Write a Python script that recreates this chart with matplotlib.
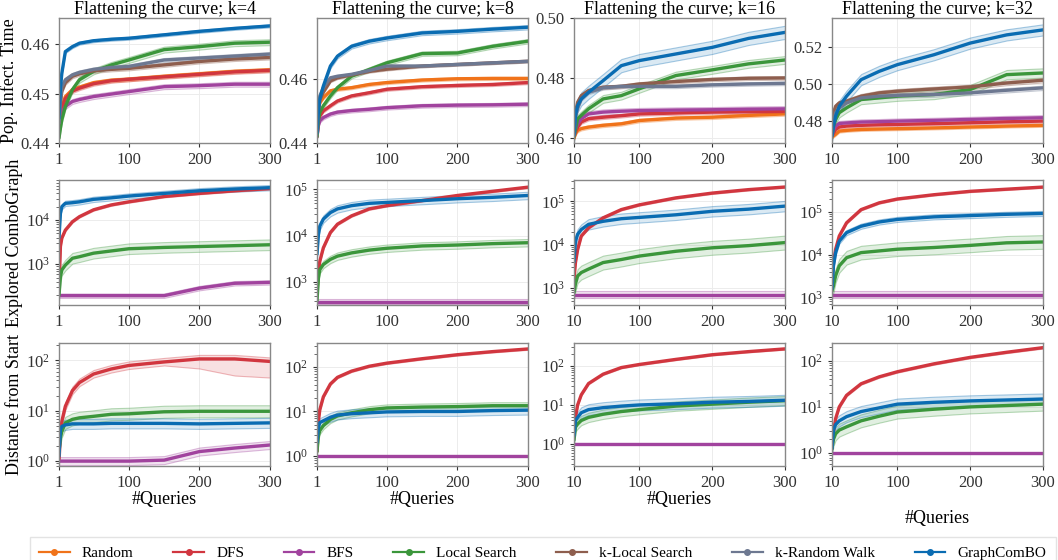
import matplotlib

matplotlib.use("Agg")
import matplotlib.pyplot as plt  # noqa: E402
import numpy as np  # noqa: E402
from matplotlib.colors import to_rgba  # noqa: E402
from matplotlib.lines import Line2D  # noqa: E402

plt.rcParams["font.family"] = ["Liberation Serif", "DejaVu Serif"]
plt.rcParams["mathtext.fontset"] = "stix"

# ---------------------------------------------------------------------------
# data (knot points of each mean curve + band width)
# ---------------------------------------------------------------------------
METHODS = ["Random", "DFS", "BFS", "Local Search", "k-Local Search",
           "k-Random Walk", "GraphComBO"]
COLORS = {
    "Random": "#f0731a",
    "DFS": "#d1363f",
    "BFS": "#a1439e",
    "Local Search": "#3b963b",
    "k-Local Search": "#8e5e4e",
    "k-Random Walk": "#6d7891",
    "GraphComBO": "#0a6cb2",
}
K_VALUES = [4, 8, 16, 32]

# query knots: k=4/8 start at 1, k=16/32 start at 10
X_A = [1, 3, 5, 10, 20, 30, 50, 75, 100, 150, 200, 250, 300]
X_B = [10, 12, 15, 20, 30, 50, 75, 100, 150, 200, 250, 300]

# row 1: population infection time (mean, +/- spread)
pit_k4 = {
    "Random": ([0.443, 0.4455, 0.4474, 0.4494, 0.4508, 0.4513, 0.4522, 0.4527, 0.4529, 0.4535, 0.454, 0.4545, 0.4548], 0.0004),
    "DFS": ([0.442, 0.445, 0.447, 0.449, 0.4505, 0.4511, 0.452, 0.4526, 0.4529, 0.4534, 0.4539, 0.4544, 0.4547], 0.0004),
    "BFS": ([0.442, 0.4445, 0.4461, 0.4474, 0.4484, 0.4488, 0.4494, 0.4499, 0.4504, 0.4514, 0.4516, 0.4519, 0.4519], 0.0005),
    "Local Search": ([0.441, 0.443, 0.4447, 0.4474, 0.4508, 0.4528, 0.4545, 0.4558, 0.4568, 0.4589, 0.4595, 0.4602, 0.4604], 0.0006),
    "k-Local Search": ([0.444, 0.448, 0.4505, 0.4522, 0.4535, 0.454, 0.4546, 0.4549, 0.4551, 0.4558, 0.4565, 0.457, 0.4573], 0.0004),
    "k-Random Walk": ([0.444, 0.4485, 0.4514, 0.4528, 0.4538, 0.4543, 0.4549, 0.4553, 0.4555, 0.4568, 0.4572, 0.4576, 0.458], 0.0004),
    "GraphComBO": ([0.445, 0.451, 0.4541, 0.4585, 0.4595, 0.4602, 0.4607, 0.461, 0.4612, 0.4619, 0.4626, 0.4632, 0.4637], 0.0003),
}
pit_k8 = {
    "Random": ([0.444, 0.45, 0.4527, 0.4543, 0.4564, 0.4569, 0.4574, 0.4584, 0.459, 0.4598, 0.4602, 0.4603, 0.4603], 0.0005),
    "DFS": ([0.442, 0.446, 0.4485, 0.4501, 0.4517, 0.4532, 0.4548, 0.4558, 0.4569, 0.4577, 0.4581, 0.4584, 0.459], 0.0005),
    "BFS": ([0.442, 0.4455, 0.447, 0.448, 0.4491, 0.4497, 0.4502, 0.4506, 0.4511, 0.4517, 0.4519, 0.452, 0.4522], 0.0006),
    "Local Search": ([0.442, 0.447, 0.4496, 0.4517, 0.4548, 0.4574, 0.461, 0.4631, 0.4652, 0.4681, 0.4683, 0.4704, 0.472], 0.0007),
    "k-Local Search": ([0.444, 0.45, 0.4535, 0.456, 0.4595, 0.4605, 0.4614, 0.4625, 0.4632, 0.4642, 0.4647, 0.4652, 0.4657], 0.0004),
    "k-Random Walk": ([0.444, 0.451, 0.4548, 0.4574, 0.4605, 0.461, 0.4616, 0.4628, 0.4642, 0.4642, 0.4647, 0.4652, 0.4657], 0.0004),
    "GraphComBO": ([0.443, 0.45, 0.4538, 0.4579, 0.4642, 0.4673, 0.4704, 0.472, 0.473, 0.4746, 0.4751, 0.4758, 0.4764], 0.0007),
}
pit_k16 = {
    "Random": ([0.460, 0.4615, 0.4626, 0.4632, 0.4637, 0.4643, 0.4648, 0.4659, 0.4667, 0.467, 0.4676, 0.4681], 0.0006),
    "DFS": ([0.4605, 0.462, 0.4637, 0.4654, 0.4665, 0.467, 0.4675, 0.4681, 0.4684, 0.4687, 0.4688, 0.4689], 0.0006),
    "BFS": ([0.461, 0.463, 0.4648, 0.4665, 0.4681, 0.4687, 0.469, 0.4692, 0.4694, 0.4695, 0.4697, 0.4698], 0.0009),
    "Local Search": ([0.4605, 0.463, 0.4665, 0.4676, 0.4698, 0.4731, 0.4742, 0.4765, 0.4809, 0.4828, 0.4848, 0.4861], 0.0013),
    "k-Local Search": ([0.461, 0.4687, 0.472, 0.4742, 0.4759, 0.477, 0.4773, 0.4781, 0.4789, 0.4796, 0.48, 0.4801], 0.0006),
    "k-Random Walk": ([0.461, 0.467, 0.470, 0.4731, 0.4753, 0.4768, 0.4773, 0.4773, 0.4773, 0.4778, 0.4781, 0.4783], 0.0006),
    "GraphComBO": ([0.461, 0.4676, 0.4709, 0.4731, 0.4753, 0.4792, 0.4842, 0.4859, 0.4881, 0.4903, 0.4933, 0.4953], 0.0022),
}
pit_k32 = {
    "Random": ([0.4715, 0.472, 0.4729, 0.4746, 0.475, 0.4755, 0.4757, 0.4759, 0.4763, 0.4768, 0.4773, 0.4777], 0.0008),
    "DFS": ([0.472, 0.4735, 0.4755, 0.4768, 0.4773, 0.4777, 0.478, 0.4782, 0.4786, 0.4791, 0.4796, 0.48], 0.0009),
    "BFS": ([0.472, 0.475, 0.4773, 0.4787, 0.479, 0.4795, 0.4797, 0.48, 0.4804, 0.4809, 0.4814, 0.4818], 0.0014),
    "Local Search": ([0.472, 0.477, 0.4809, 0.4845, 0.4871, 0.4916, 0.4925, 0.4934, 0.4943, 0.497, 0.505, 0.5059], 0.0025),
    "k-Local Search": ([0.472, 0.4845, 0.488, 0.4898, 0.4907, 0.4934, 0.4952, 0.4961, 0.4973, 0.4984, 0.5005, 0.502], 0.0012),
    "k-Random Walk": ([0.472, 0.479, 0.4845, 0.4871, 0.4898, 0.4925, 0.4934, 0.4938, 0.4943, 0.4952, 0.4966, 0.4979], 0.0012),
    "GraphComBO": ([0.472, 0.4773, 0.4827, 0.488, 0.4934, 0.5023, 0.5068, 0.5104, 0.5157, 0.522, 0.5264, 0.5291], 0.0030),
}

# row 2: explored combo-graph size, log10 of the mean (+/- spread in log10)
exp_k4 = {
    "DFS": ([2.4, 3.4, 3.59, 3.77, 3.96, 4.075, 4.23, 4.34, 4.41, 4.53, 4.6, 4.66, 4.71], 0.02),
    "BFS": ([2.29, 2.29, 2.29, 2.29, 2.29, 2.29, 2.29, 2.29, 2.29, 2.29, 2.46, 2.57, 2.59], 0.05),
    "Local Search": ([2.3, 2.72, 2.87, 2.98, 3.135, 3.17, 3.25, 3.3, 3.35, 3.38, 3.4, 3.42, 3.44], 0.12),
    "GraphComBO": ([3.6, 4.15, 4.3, 4.376, 4.39, 4.41, 4.466, 4.5, 4.54, 4.6, 4.66, 4.7, 4.73], 0.06),
}
exp_k8 = {
    "DFS": ([2.8, 3.23, 3.45, 3.74, 4.07, 4.25, 4.43, 4.58, 4.65, 4.76, 4.87, 4.96, 5.05], 0.02),
    "BFS": ([2.58, 2.58, 2.58, 2.58, 2.58, 2.58, 2.58, 2.58, 2.58, 2.58, 2.58, 2.58, 2.58], 0.05),
    "Local Search": ([2.6, 3.09, 3.27, 3.38, 3.49, 3.56, 3.63, 3.69, 3.73, 3.78, 3.8, 3.83, 3.85], 0.08),
    "GraphComBO": ([3.6, 4.03, 4.21, 4.36, 4.5, 4.58, 4.65, 4.7, 4.72, 4.76, 4.8, 4.83, 4.87], 0.08),
}
exp_k16 = {
    "DFS": ([3.2, 3.59, 3.89, 4.2, 4.39, 4.62, 4.81, 4.92, 5.08, 5.19, 5.27, 5.33], 0.02),
    "BFS": ([2.85, 2.85, 2.85, 2.85, 2.85, 2.85, 2.85, 2.85, 2.85, 2.85, 2.85, 2.85], 0.08),
    "Local Search": ([2.9, 3.1, 3.28, 3.36, 3.44, 3.59, 3.66, 3.74, 3.85, 3.93, 3.98, 4.05], 0.16),
    "GraphComBO": ([3.6, 4.08, 4.24, 4.35, 4.47, 4.54, 4.6, 4.63, 4.69, 4.77, 4.82, 4.89], 0.12),
}
exp_k32 = {
    "DFS": ([3.3, 3.82, 4.13, 4.44, 4.75, 5.06, 5.22, 5.31, 5.41, 5.49, 5.54, 5.59], 0.02),
    "BFS": ([3.06, 3.06, 3.06, 3.06, 3.06, 3.06, 3.06, 3.06, 3.06, 3.06, 3.06, 3.06], 0.08),
    "Local Search": ([3.15, 3.27, 3.51, 3.74, 3.93, 4.05, 4.09, 4.13, 4.17, 4.22, 4.28, 4.3], 0.16),
    "GraphComBO": ([3.2, 3.74, 4.05, 4.32, 4.52, 4.67, 4.77, 4.83, 4.89, 4.92, 4.95, 4.97], 0.06),
}

# row 3: distance from start, log10 of the mean (+/- spread in log10)
dist_k4 = {
    "DFS": ([0.0, 0.52, 0.79, 1.09, 1.4, 1.56, 1.73, 1.83, 1.9, 1.97, 2.03, 2.03, 1.98], 0.08),
    "BFS": ([0.0, 0.0, 0.0, 0.0, 0.0, 0.0, 0.0, 0.0, 0.0, 0.02, 0.19, 0.26, 0.32], 0.08),
    "Local Search": ([0.2, 0.46, 0.59, 0.76, 0.83, 0.86, 0.89, 0.93, 0.94, 0.98, 0.99, 0.99, 0.99], 0.12),
    "GraphComBO": ([0.1, 0.62, 0.69, 0.72, 0.74, 0.74, 0.74, 0.75, 0.75, 0.75, 0.74, 0.75, 0.76], 0.1),
}
# the DFS band for k=4 drops far below its mean late on
dist_k4_dfs_low = [0.0, 0.45, 0.72, 1.02, 1.33, 1.49, 1.66, 1.76, 1.83, 1.9, 1.84, 1.7, 1.66]
dist_k8 = {
    "DFS": ([0.1, 0.79, 1.04, 1.33, 1.62, 1.77, 1.91, 2.02, 2.09, 2.19, 2.28, 2.35, 2.41], 0.02),
    "BFS": ([0.0, 0.0, 0.0, 0.0, 0.0, 0.0, 0.0, 0.0, 0.0, 0.0, 0.0, 0.0, 0.0], 0.01),
    "Local Search": ([0.1, 0.45, 0.57, 0.68, 0.82, 0.9, 0.97, 1.04, 1.08, 1.1, 1.11, 1.13, 1.13], 0.08),
    "GraphComBO": ([0.3, 0.64, 0.75, 0.79, 0.87, 0.92, 0.95, 0.97, 0.99, 1.0, 1.0, 1.02, 1.03], 0.1),
}
dist_k16 = {
    "DFS": ([0.3, 0.68, 1.0, 1.26, 1.55, 1.79, 1.96, 2.04, 2.17, 2.29, 2.37, 2.44], 0.02),
    "BFS": ([0.0, 0.0, 0.0, 0.0, 0.0, 0.0, 0.0, 0.0, 0.0, 0.0, 0.0, 0.0], 0.01),
    "Local Search": ([0.1, 0.43, 0.51, 0.6, 0.68, 0.76, 0.83, 0.88, 0.97, 1.02, 1.07, 1.11], 0.12),
    "GraphComBO": ([0.2, 0.6, 0.68, 0.8, 0.88, 0.93, 0.97, 1.0, 1.03, 1.07, 1.09, 1.12], 0.14),
}
dist_k32 = {
    "DFS": ([0.1, 0.45, 0.75, 1.0, 1.25, 1.5, 1.65, 1.76, 1.93, 2.07, 2.18, 2.28], 0.02),
    "BFS": ([0.0, 0.0, 0.0, 0.0, 0.0, 0.0, 0.0, 0.0, 0.0, 0.0, 0.0, 0.0], 0.01),
    "Local Search": ([0.1, 0.3, 0.42, 0.5, 0.57, 0.7, 0.8, 0.89, 0.95, 1.0, 1.03, 1.06], 0.14),
    "GraphComBO": ([0.1, 0.5, 0.62, 0.7, 0.79, 0.9, 0.98, 1.06, 1.1, 1.13, 1.15, 1.17], 0.12),
}

PIT_YLIM = [(0.44, 0.4653), (0.44, 0.4793), (0.4584, 0.5001), (0.4682, 0.5355)]
PIT_YTICKS = [[0.44, 0.45, 0.46], [0.44, 0.46], [0.46, 0.48, 0.50], [0.48, 0.50, 0.52]]
EXP_YLIM = [(1.2e2, 8.0e4), (3.2e2, 1.6e5), (4.1e2, 3.1e5), (6.6e2, 5.7e5)]
DIST_YLIM = [(0.80, 222), (0.59, 350), (0.27, 390), (0.53, 240)]

ROWS = [
    ("Pop. Infect. Time", [pit_k4, pit_k8, pit_k16, pit_k32], False),
    ("Explored ComboGraph", [exp_k4, exp_k8, exp_k16, exp_k32], True),
    ("Distance from Start", [dist_k4, dist_k8, dist_k16, dist_k32], True),
]
LOW_OVERRIDE = {(2, 0, "DFS"): dist_k4_dfs_low}

# ---------------------------------------------------------------------------
W, H = 1058, 560
COL_LEFT = [59, 317, 574, 832]
COL_W = 211
ROW_TOP = [18, 180, 343]
ROW_BOT = [143, 305, 466]

fig = plt.figure(figsize=(W / 100, H / 100), dpi=100)

for r, (ylabel, panels, logy) in enumerate(ROWS):
    for c, data in enumerate(panels):
        ax = fig.add_axes([
            COL_LEFT[c] / W,
            1 - ROW_BOT[r] / H,
            COL_W / W,
            (ROW_BOT[r] - ROW_TOP[r]) / H,
        ])
        xs = np.array(X_A if c < 2 else X_B)
        for m in METHODS:
            if m not in data:
                continue
            ys, spread = data[m]
            ys = np.array(ys)
            low = np.array(LOW_OVERRIDE.get((r, c, m), ys - spread))
            col = COLORS[m]
            if logy:
                mean = 10 ** ys
                lo, hi = 10 ** low, 10 ** (ys + spread)
            else:
                mean = ys
                lo, hi = low, ys + spread
            ax.fill_between(xs, lo, hi, facecolor=to_rgba(col, 0.15),
                            edgecolor=to_rgba(col, 0.35), linewidth=0.8)
            ax.plot(xs, mean, color=col, lw=2.4, solid_capstyle="round")

        ax.set_xlim(xs[0], 300)
        ax.set_xticks([xs[0], 100, 200, 300])
        if logy:
            ax.set_yscale("log")
            ax.set_ylim(EXP_YLIM[c] if r == 1 else DIST_YLIM[c])
        else:
            ax.set_ylim(PIT_YLIM[c])
            ax.set_yticks(PIT_YTICKS[c])
            ax.set_yticklabels([f"{v:.2f}" for v in PIT_YTICKS[c]])
        ax.grid(True, color="#ececec", lw=0.7)
        ax.set_axisbelow(True)
        ax.tick_params(labelsize=12, colors="#333333", length=3, width=0.8)
        ax.tick_params(which="minor", length=2, width=0.6, colors="#555555")
        for s in ax.spines.values():
            s.set_color("#888888")
            s.set_linewidth(1.0)
        if r == 0:
            ax.set_title(f"Flattening the curve; k={K_VALUES[c]}",
                         fontsize=13, pad=3)
        if c == 0:
            ax.set_ylabel(ylabel, fontsize=13, labelpad=2)
        if r == 2:
            ax.set_xlabel("#Queries", fontsize=13, labelpad=0 if c < 3 else 14)

handles = [Line2D([], [], color=COLORS[m], lw=1.6, marker="o", ms=4)
           for m in METHODS]
leg = fig.legend(handles, METHODS, loc="lower center", ncol=7,
                 bbox_to_anchor=(0.513, -0.03), fontsize=11, frameon=True,
                 fancybox=False, edgecolor="#dddddd", columnspacing=2.6,
                 handlelength=2.0, handletextpad=0.8, borderpad=0.6)

fig.savefig("out.png", dpi=100)
